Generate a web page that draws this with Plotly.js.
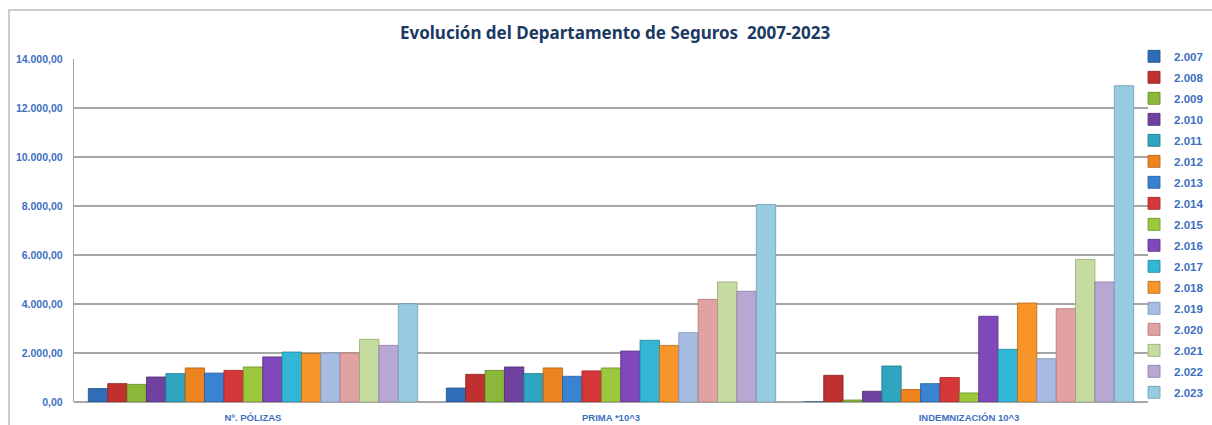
<!DOCTYPE html>
<html>
<head>
<meta charset="utf-8">
<script src="https://cdn.plot.ly/plotly-3.0.1.min.js"></script>
<style>
  html, body { margin: 0; padding: 0; background: #ffffff; }
  #chart { width: 1212px; height: 425px; }
</style>
</head>
<body>
<div id="chart"></div>
<script>
// Categories (x axis)
const categories = ["Nº. PÓLIZAS", "PRIMA *10^3", "INDEMNIZACIÓN 10^3"];

// Series names (legend)
const years = ["2.007","2.008","2.009","2.010","2.011","2.012","2.013","2.014","2.015",
               "2.016","2.017","2.018","2.019","2.020","2.021","2.022","2.023"];

// Values per year: [Nº PÓLIZAS, PRIMA *10^3, INDEMNIZACIÓN 10^3]
const v2007 = [550, 570, 0];
const v2008 = [750, 1130, 1090];
const v2009 = [720, 1290, 80];
const v2010 = [1020, 1430, 440];
const v2011 = [1160, 1160, 1470];
const v2012 = [1390, 1390, 510];
const v2013 = [1180, 1050, 750];
const v2014 = [1290, 1270, 1000];
const v2015 = [1430, 1390, 370];
const v2016 = [1840, 2080, 3500];
const v2017 = [2040, 2520, 2150];
const v2018 = [1980, 2310, 4040];
const v2019 = [2000, 2830, 1770];
const v2020 = [2000, 4190, 3810];
const v2021 = [2560, 4900, 5820];
const v2022 = [2310, 4520, 4900];
const v2023 = [4010, 8060, 12910];

const seriesValues = [v2007, v2008, v2009, v2010, v2011, v2012, v2013, v2014, v2015,
                      v2016, v2017, v2018, v2019, v2020, v2021, v2022, v2023];

const colors = ["#2F6DB8","#C0302E","#8CB83A","#6E429E","#2FA5BF","#EE8420",
                "#3A82D2","#D6383A","#9CC83E","#8048B8","#32B6D6","#F7952A",
                "#A7BCE2","#E3A2A2","#C6DBA0","#B8A7D2","#97CBE0"];
const lineColors = ["#1D4F8C","#8E2020","#62852A","#4C2C72","#1E7A8E","#B45E14",
                    "#245D9E","#9E2426","#6E9228","#5A3088","#1F86A0","#B66A1A",
                    "#7D92B8","#B07474","#94AA72","#8A78A6","#6C9CB2"];

const traces = years.map((y, i) => ({
  type: "bar",
  name: y,
  legendgroup: "g" + i,
  x: categories,
  y: seriesValues[i],
  marker: { color: colors[i], line: { color: lineColors[i], width: 0.8 } },
  hoverinfo: "x+y+name"
}));

const blue = "#3D6FBF";
const layout = {
  width: 1212,
  height: 425,
  margin: { l: 74, r: 64, t: 59, b: 23, autoexpand: false },
  paper_bgcolor: "#ffffff",
  plot_bgcolor: "#ffffff",
  separators: ",.",
  barmode: "group",
  bargap: 0.08,
  bargroupgap: 0,
  title: {
    text: "<b>Evolución del Departamento de Seguros  2007-2023</b>",
    font: { family: "Noto Sans, Open Sans, sans-serif", size: 17, color: "#1B3A63" },
    x: 0.5075, xanchor: "center", xref: "container",
    y: 0.922, yanchor: "middle", yref: "container"
  },
  xaxis: {
    type: "category",
    showgrid: false,
    showline: false,
    zeroline: false,
    ticks: "",
    tickfont: { family: "Liberation Sans Narrow, Arial Narrow, sans-serif", size: 9.5, color: blue, weight: "bold" },
    ticklabelstandoff: 8
  },
  yaxis: {
    range: [0, 14000],
    dtick: 2000,
    tick0: 0,
    tickformat: ",.2f",
    showgrid: true,
    gridcolor: "#A6A6A6",
    gridwidth: 1.3,
    showline: true,
    linecolor: "#A6A6A6",
    linewidth: 1.3,
    zeroline: true,
    zerolinecolor: "#A6A6A6",
    zerolinewidth: 1.3,
    ticks: "",
    ticklabelstandoff: 8,
    tickfont: { family: "Liberation Sans Narrow, Arial Narrow, sans-serif", size: 10.5, color: blue, weight: "bold" }
  },
  legend: {
    x: 0.987, xanchor: "left",
    y: 1.05, yanchor: "top",
    orientation: "v",
    traceorder: "grouped",
    itemwidth: 30,
    maxheight: 1,
    font: { family: "Liberation Sans Narrow, Arial Narrow, sans-serif", size: 11.5, color: blue, weight: "bold" },
    bgcolor: "rgba(0,0,0,0)",
    tracegroupgap: 2
  },
  shapes: [{
    type: "rect", xref: "paper", yref: "paper",
    x0: -0.0605, x1: 1.2, y0: -0.2, y1: 1.143,
    line: { color: "#BDBDBD", width: 1.5 },
    fillcolor: "rgba(0,0,0,0)",
    layer: "below"
  }],
  showlegend: true
};

Plotly.newPlot("chart", traces, layout, { displayModeBar: false, staticPlot: true });
</script>
</body>
</html>
